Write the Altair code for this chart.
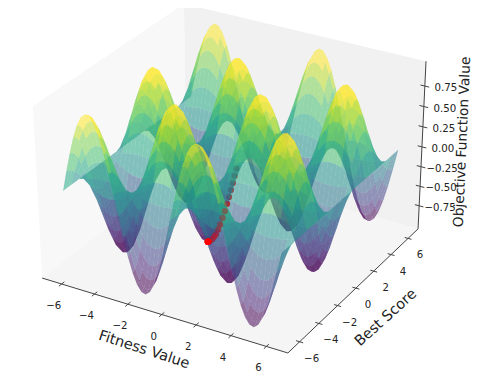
import numpy as np
import altair as alt

# Surface profiles (value along each axis, 51 samples)
X_CYCLE = [0, .249, .482, .685, .844, .951, .998, .982, .905, .771, .588, .368, .125,
           -.125, -.368, -.588, -.771, -.905, -.982, -.998, -.951, -.844, -.685, -.482, -.249]
Y_CYCLE = [1, .969, .876, .729, .536, .309, .063, -.187, -.426, -.637, -.809, -.930, -.992,
           -.992, -.930, -.809, -.637, -.426, -.187, .063, .309, .536, .729, .876, .969]
X_PROFILE = X_CYCLE + X_CYCLE + [0]
Y_PROFILE = Y_CYCLE + Y_CYCLE + [1]
GRID_END = 6.28

# Optimiser path
PATH_X = [-0.57, -0.60, -0.64, -0.69, -0.74, -0.80, -0.88, -0.96, -1.05, -1.13, -1.22, -1.30, -1.38, -1.45, -1.50, -1.54, -1.56, -1.57, -1.57]
PATH_Y = [1.30, 1.17, 1.05, 0.93, 0.82, 0.72, 0.62, 0.52, 0.43, 0.35, 0.27, 0.21, 0.15, 0.10, 0.06, 0.04, 0.02, 0.01, 0.00]
PATH_Z = [-.14, -.22, -.30, -.38, -.46, -.54, -.63, -.71, -.79, -.85, -.91, -.94, -.97, -.98, -1, -1, -1, -1, -1]

X_TICKS = [-6, -4, -2, 0, 2, 4, 6]
Y_TICKS = [-6, -4, -2, 0, 2, 4, 6]
Z_TICKS = [-0.75, -0.50, -0.25, 0.00, 0.25, 0.50, 0.75]
VIRIDIS = ["#440154", "#482475", "#414487", "#355f8d", "#2a788e", "#21918c",
           "#22a884", "#44bf70", "#7ad151", "#bddf26", "#fde725"]

XL, YL, ZL = 7.2, 7.2, 1.05
ALPHA = 0.55

# mplot3d default view
asp = np.array([4., 4., 3.]) * 1.8294640721620434 * 25 / 24 / np.sqrt(41)
el, az = np.radians(30), np.radians(-60)
R = asp / 2
eye = R + 10 * np.array([np.cos(el) * np.cos(az), np.cos(el) * np.sin(az), np.sin(el)])
w = (eye - R) / np.linalg.norm(eye - R)
u = np.cross([0, 0, 1], w); u /= np.linalg.norm(u)
v = np.cross(w, u)


def view(x, y, z):
    p = np.stack([(np.asarray(x, float) + XL) / (2 * XL) * asp[0],
                  (np.asarray(y, float) + YL) / (2 * YL) * asp[1],
                  (np.asarray(z, float) + ZL) / (2 * ZL) * asp[2]], -1) - eye
    d = -(p @ w)
    return (p @ u) / d, (p @ v) / d, d


cal3 = [(-XL, -YL, -ZL), (XL, -YL, -ZL), (XL, YL, -ZL), (XL, YL, ZL), (-XL, YL, ZL), (-XL, -YL, ZL)]
cal2 = [(42, 278), (288, 353), (418, 229), (426, 61), (184, 4), (33, 106)]
c = np.array(cal3)
vx, vy, _ = view(c[:, 0], c[:, 1], c[:, 2])
A = np.column_stack([vx, vy, np.ones(6)])
T, *_ = np.linalg.lstsq(A, np.array(cal2, float), rcond=None)


def project(x, y, z):
    a, b, d = view(x, y, z)
    q = np.stack([a, b, np.ones_like(a)], -1) @ T
    return q[..., 0] - 8, q[..., 1] - 8, d


def ring(pts):
    xs, ys, zs = zip(*pts)
    a, b, _ = project(xs, ys, zs)
    return [[round(float(i), 2), round(float(j), 2)] for i, j in zip(a, b)]


def feat(kind, coords, color="#000"):
    return {"type": "Feature", "properties": {"c": color}, "geometry": {"type": kind, "coordinates": coords}}


proj = alt.Projection(type="identity", scale=1, translate=[0, 0])
W, H = 464, 367


def geo(features, **mark):
    return alt.Chart(alt.Data(values=features)).mark_geoshape(**mark).encode(color=alt.Color("properties.c:N", scale=None)).project(**proj.to_dict())


# Panes
panes = [
    feat("Polygon", [ring([(-XL, -YL, -ZL), (-XL, YL, -ZL), (-XL, YL, ZL), (-XL, -YL, ZL), (-XL, -YL, -ZL)])], "#f8f8f8"),
    feat("Polygon", [ring([(-XL, YL, -ZL), (XL, YL, -ZL), (XL, YL, ZL), (-XL, YL, ZL), (-XL, YL, -ZL)])], "#f1f1f1"),
    feat("Polygon", [ring([(-XL, -YL, -ZL), (XL, -YL, -ZL), (XL, YL, -ZL), (-XL, YL, -ZL), (-XL, -YL, -ZL)])], "#f5f5f5"),
]

# Axis lines and ticks
lines = [
    feat("LineString", ring([(-XL, -YL, -ZL), (XL, -YL, -ZL)]), "#444444"),
    feat("LineString", ring([(XL, -YL, -ZL), (XL, YL, -ZL)]), "#444444"),
    feat("LineString", ring([(XL, YL, -ZL), (XL, YL, ZL)]), "#444444"),
]
for t in X_TICKS:
    lines.append(feat("LineString", ring([(t, -YL - 0.25, -ZL), (t, -YL + 0.25, -ZL)]), "#444444"))
for t in Y_TICKS:
    lines.append(feat("LineString", ring([(XL + 0.2, t, -ZL), (XL - 0.2, t, -ZL)]), "#444444"))
for t in Z_TICKS:
    lines.append(feat("LineString", ring([(XL + 0.25, YL, t), (XL - 0.25, YL, t)]), "#444444"))

# Surface
gx = np.linspace(-GRID_END, GRID_END, len(X_PROFILE))
gy = np.linspace(-GRID_END, GRID_END, len(Y_PROFILE))
Z = np.outer(X_PROFILE, Y_PROFILE)
GX, GY = np.meshgrid(gx, gy, indexing="ij")
PX, PY, PD = project(GX, GY, Z)
quads = []
for i in range(len(gx) - 1):
    for j in range(len(gy) - 1):
        idx = [(i, j), (i + 1, j), (i + 1, j + 1), (i, j + 1), (i, j)]
        zm = np.mean([Z[a, b] for a, b in idx[:4]])
        dm = np.mean([PD[a, b] for a, b in idx[:4]])
        k = min(int((zm + 1) / 2 * len(VIRIDIS)), len(VIRIDIS) - 1)
        coords = [[[round(float(PX[a, b]), 2), round(float(PY[a, b]), 2)] for a, b in idx]]
        quads.append((dm, feat("Polygon", coords, VIRIDIS[k])))
quads.sort(key=lambda q: -q[0])
surface = [q[1] for q in quads]

# Path
pa, pb, _ = project(PATH_X, PATH_Y, PATH_Z)
path_rows = [{"lon": float(a), "lat": float(b)} for a, b in zip(pa, pb)]


def text_rows(xs, ys, zs, labels, dx, dy):
    a, b, _ = project(xs, ys, zs)
    return [{"lon": float(i) + dx, "lat": float(j) + dy, "t": s} for i, j, s in zip(a, b, labels)]


def fmt(t):
    return str(t).replace("-", "\u2212")


rows = (text_rows(X_TICKS, [-YL] * 7, [-ZL] * 7, [fmt(t) for t in X_TICKS], -8, 22)
        + text_rows([XL] * 7, Y_TICKS, [-ZL] * 7, [fmt(t) for t in Y_TICKS], 12, 17)
        + text_rows([XL] * 7, [YL] * 7, Z_TICKS, [fmt(f"{t:.2f}") for t in Z_TICKS], 21, 2))


def txt(data, size, angle=0):
    return alt.Chart(alt.Data(values=data)).mark_text(
        font="DejaVu Sans", fontSize=size, angle=angle, align="center", baseline="middle", color="#222222"
    ).encode(longitude="lon:Q", latitude="lat:Q", text="t:N").project(**proj.to_dict())


titles = [
    txt([{"lon": 144 - 8, "lat": 350 - 8, "t": "Fitness Value"}], 14.5, 18),
    txt([{"lon": 386 - 8, "lat": 318 - 8, "t": "Best Score"}], 14.5, 318),
    txt([{"lon": 462.5 - 8, "lat": 142 - 8, "t": "Objective Function Value"}], 13.8, 272.5),
]


def dots(rows_, op):
    return alt.Chart(alt.Data(values=rows_)).mark_circle(size=38, color="#ff0000", opacity=op).encode(
        longitude="lon:Q", latitude="lat:Q").project(**proj.to_dict())


chart = alt.layer(
    geo(panes, strokeWidth=0),
    geo(lines, filled=False, strokeWidth=1),
    txt(rows, 10.2),
    *titles,
    dots(path_rows, 1),
    geo(surface, strokeWidth=0, opacity=ALPHA),
    dots(path_rows[5:13], 0.3),
    dots(path_rows[15:], 1),
).properties(width=W, height=H, padding=0, autosize=alt.AutoSizeParams(type="none")
).configure_view(stroke=None)

chart.save("out.html", embed_options={"renderer": "svg", "actions": False})
